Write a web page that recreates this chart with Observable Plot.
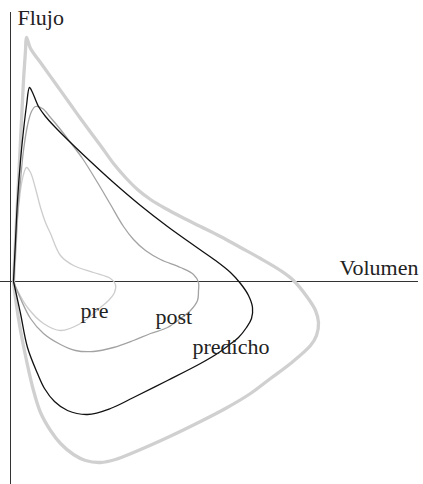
<!DOCTYPE html>
<html><head><meta charset="utf-8">
<script src="https://cdn.jsdelivr.net/npm/d3@7"></script>
<script src="https://cdn.jsdelivr.net/npm/@observablehq/plot@0.6"></script>
<style>html,body{margin:0;padding:0;background:#fff}</style>
</head><body><div id="chart"></div>
<script>
// Volume (L) and flow (L/s) for each loop
const maxVol  = [0.06,0.10,0.14,0.18,0.22,0.26,0.30,0.32,0.40,0.60,0.90,1.20,1.40,1.80,2.06,2.30,2.54,2.80,3.10,3.40,3.80,4.20,4.60,5.00,5.40,5.66,5.94,6.10,6.16,6.12,6.00,5.60,5.20,4.80,4.30,3.80,3.14,2.46,2.10,1.80,1.50,1.26,1.00,0.80,0.60,0.46,0.32,0.20,0.12,0.06];
const maxFlow = [0,0.82,1.62,2.42,3.22,4.02,4.62,4.88,4.66,4.38,3.96,3.54,3.26,2.72,2.36,2.08,1.84,1.64,1.46,1.30,1.10,0.90,0.68,0.46,0.22,0.02,-0.32,-0.58,-0.82,-1.08,-1.28,-1.64,-1.94,-2.24,-2.54,-2.80,-3.12,-3.42,-3.56,-3.62,-3.58,-3.46,-3.24,-2.98,-2.62,-2.18,-1.58,-0.98,-0.48,0];

const predVol  = [0.06,0.10,0.14,0.20,0.26,0.32,0.38,0.44,0.56,0.70,0.90,1.20,1.60,2.06,2.60,3.14,3.70,4.10,4.40,4.60,4.76,4.84,4.82,4.72,4.56,4.36,4.14,3.80,3.14,2.46,2.00,1.54,1.14,0.88,0.68,0.54,0.34,0.20,0.10,0.06];
const predFlow = [0,0.82,1.62,2.42,3.02,3.52,3.88,3.78,3.50,3.30,3.08,2.78,2.40,1.98,1.52,1.10,0.70,0.42,0.18,-0.04,-0.28,-0.52,-0.74,-0.92,-1.12,-1.28,-1.44,-1.64,-1.98,-2.32,-2.54,-2.66,-2.58,-2.40,-2.14,-1.84,-1.32,-0.64,-0.18,0];

const postVol  = [0.06,0.10,0.14,0.20,0.26,0.34,0.42,0.50,0.64,0.80,1.00,1.20,1.44,1.74,2.00,2.26,2.46,2.70,3.00,3.40,3.66,3.76,3.76,3.74,3.60,3.40,3.14,2.80,2.46,2.06,1.66,1.30,1.00,0.66,0.40,0.20,0.06];
const postFlow = [0,0.62,1.32,2.02,2.62,3.12,3.40,3.50,3.46,3.28,3.04,2.78,2.46,1.98,1.54,1.10,0.84,0.62,0.44,0.28,0.14,-0.02,-0.18,-0.38,-0.58,-0.74,-0.92,-1.04,-1.18,-1.32,-1.40,-1.38,-1.26,-1.04,-0.74,-0.34,0];

const preVol  = [0.06,0.10,0.16,0.24,0.32,0.40,0.50,0.60,0.70,0.80,1.00,1.26,1.66,2.00,2.10,2.08,1.96,1.80,1.40,1.00,0.66,0.34,0.14,0.06];
const preFlow = [0,0.82,1.48,2.06,2.28,2.18,1.86,1.48,1.18,0.96,0.52,0.32,0.18,0.06,-0.06,-0.22,-0.38,-0.52,-0.84,-0.98,-0.84,-0.52,-0.18,0];

const curveNames = ["pre", "post", "predicho"];
const labelVol  = [1.4, 2.9, 3.64];
const labelFlow = [-0.72, -0.84, -1.44];

const axisVolEnd = 8.16, axisFlowTop = 5.38;

const pts = (v, f) => v.map((x, i) => ({v: x, f: f[i]}));
const labels = curveNames.map((t, i) => ({t, v: labelVol[i], f: labelFlow[i]}));

const chart = Plot.plot({
  width: 423, height: 484, margin: 0,
  style: {fontFamily: "'Liberation Serif', 'Times New Roman', serif", background: "#fff"},
  x: {domain: [-0.2, 8.26], axis: null},
  y: {domain: [-4.06, 5.62], axis: null},
  marks: [
    Plot.ruleX([0], {y1: -4.06, y2: axisFlowTop, stroke: "#333", strokeWidth: 1}),
    Plot.ruleY([0], {x1: -0.2, x2: axisVolEnd, stroke: "#333", strokeWidth: 1}),
    Plot.line(pts(maxVol, maxFlow), {x: "v", y: "f", curve: "catmull-rom", stroke: "#d0d0d0", strokeWidth: 3.3}),
    Plot.line(pts(preVol, preFlow), {x: "v", y: "f", curve: "catmull-rom", stroke: "#cdcdcd", strokeWidth: 1.3}),
    Plot.line(pts(postVol, postFlow), {x: "v", y: "f", curve: "catmull-rom", stroke: "#a3a3a3", strokeWidth: 1.3}),
    Plot.line(pts(predVol, predFlow), {x: "v", y: "f", curve: "catmull-rom", stroke: "#111", strokeWidth: 1.3}),
    Plot.text(labels, {x: "v", y: "f", text: "t", textAnchor: "start", lineAnchor: "bottom", fontSize: 22, fill: "#222"}),
    Plot.text(["Volumen"], {x: axisVolEnd, y: 0, text: d => d, textAnchor: "end", lineAnchor: "bottom", dy: -7, fontSize: 22, fill: "#222"}),
    Plot.text(["Flujo"], {x: 0, y: axisFlowTop, text: d => d, textAnchor: "start", lineAnchor: "top", dx: 7, dy: -3, fontSize: 22, fill: "#222"})
  ]
});
document.getElementById("chart").append(chart);
</script>
</body></html>
